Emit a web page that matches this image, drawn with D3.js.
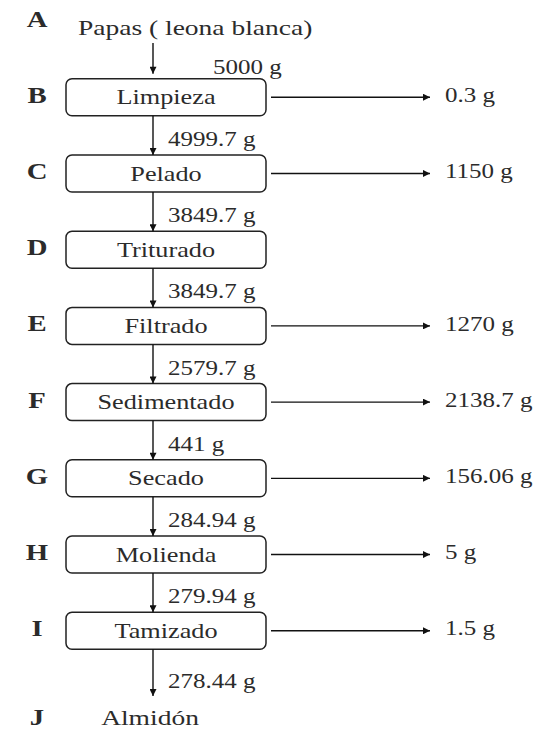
<!DOCTYPE html>
<html><head><meta charset="utf-8">
<script src="https://cdn.jsdelivr.net/npm/d3@7"></script>
<style>
html,body{margin:0;padding:0;background:#fff;}
svg{display:block;}
text{font-family:"Liberation Serif","Times New Roman",serif;fill:#2b2b2b;}
</style></head>
<body>
<svg id="chart" width="553" height="740"></svg>
<script>
// ---- data ----
const letters = ["A","B","C","D","E","F","G","H","I","J"];
const stepNames = ["Papas ( leona blanca)","Limpieza","Pelado","Triturado","Filtrado","Sedimentado","Secado","Molienda","Tamizado","Almidón"];
// mass passed down from each step to the next (g)
const flowLabels = ["5000 g","4999.7 g","3849.7 g","3849.7 g","2579.7 g","441 g","284.94 g","279.94 g","278.44 g"];
// mass removed at each step (g); null = no side output
const lossLabels = [null,"0.3 g","1150 g",null,"1270 g","2138.7 g","156.06 g","5 g","1.5 g",null];

// ---- layout ----
const svg = d3.select("#chart");
const sx = 1.25; // horizontal stretch of the original scan
const y = d3.scalePoint().domain(letters).range([21, 707]);
const axisX = 153, boxL = 66, boxR = 266, boxH = 37, letterX = 37;
const sideEnd = 430, sideLabelX = 445, flowLabelX = 168;

const defs = svg.append("defs");
defs.append("marker").attr("id","ah").attr("viewBox","0 0 10 10")
  .attr("refX",10).attr("refY",5).attr("markerWidth",9).attr("markerHeight",7)
  .attr("markerUnits","userSpaceOnUse").attr("orient","auto")
  .append("path").attr("d","M0,0L10,5L0,10Z").attr("fill","#111");

function stext(g, x, yy, str, size, anchor, weight, fill){
  return g.append("text")
    .attr("transform",`translate(${x},${yy}) scale(${sx},1)`)
    .attr("text-anchor",anchor).attr("dominant-baseline","central")
    .attr("font-size",size).attr("font-weight",weight||"normal")
    .attr("fill",fill||"#2b2b2b").text(str);
}

const isBox = (i) => i > 0 && i < letters.length - 1;
const topOf = (i) => isBox(i) ? y(letters[i]) - boxH/2 : y(letters[i]) - 11;
const bottomOf = (i) => isBox(i) ? y(letters[i]) + boxH/2 : y(letters[i]) + 22;

// letters
letters.forEach((L,i)=>{
  stext(svg, letterX, y(L) + (i===9 ? 10 : -2), L, 23, "middle", "bold", "#111");
});

// boxes & names
letters.forEach((L,i)=>{
  const cy = y(L);
  if (isBox(i)) {
    svg.append("rect").attr("x",boxL).attr("y",cy-boxH/2).attr("width",boxR-boxL).attr("height",boxH)
      .attr("rx",6).attr("fill","#fff").attr("stroke","#222").attr("stroke-width",1.5);
    stext(svg, (boxL+boxR)/2, cy, stepNames[i], 21, "middle");
  } else if (i === 0) {
    stext(svg, 78, cy + 6, stepNames[i], 22, "start");
  } else {
    stext(svg, axisX - 3, cy + 10, stepNames[i], 22, "middle");
  }
});

// vertical flows
flowLabels.forEach((lab,i)=>{
  const y0 = bottomOf(i), y1 = topOf(i+1) - (i===0?5:0);
  svg.append("line").attr("x1",axisX).attr("x2",axisX).attr("y1",y0).attr("y2",y1)
    .attr("stroke","#111").attr("stroke-width",1.4).attr("marker-end","url(#ah)");
  const lx = i===0 ? 213 : flowLabelX;
  const dy = i===0 ? 9 : (i===8 ? 9 : 4);
  stext(svg, lx, (y0+y1)/2 + dy, lab, 20, "start");
});

// side losses
lossLabels.forEach((lab,i)=>{
  if (!lab) return;
  const cy = y(letters[i]);
  svg.append("line").attr("x1",boxR+5).attr("x2",sideEnd).attr("y1",cy).attr("y2",cy)
    .attr("stroke","#111").attr("stroke-width",1.4).attr("marker-end","url(#ah)");
  stext(svg, sideLabelX, cy - 2, lab, 20, "start");
});
</script>
</body></html>
